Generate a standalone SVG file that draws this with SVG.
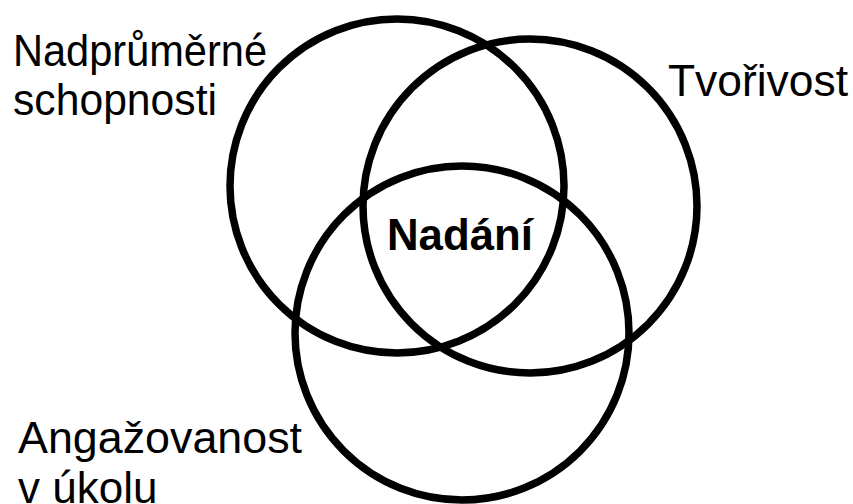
<svg xmlns="http://www.w3.org/2000/svg" width="853" height="504" viewBox="0 0 853 504">
<style>
.c{fill:none;stroke:#000;stroke-width:7.5}
.t{font-family:"Liberation Sans",Arial,sans-serif;font-size:44px;fill:#000}
.b{font-weight:bold}
</style>
<rect width="853" height="504" fill="#fff"/>
<g id="circle-abilities"><circle class="c" cx="397" cy="186" r="167"/></g>
<g id="circle-creativity"><circle class="c" cx="530" cy="206" r="167"/></g>
<g id="circle-commitment"><circle class="c" cx="462" cy="333" r="167"/></g>
<g id="label-abilities"><text class="t" x="13" y="66" textLength="254" lengthAdjust="spacingAndGlyphs">Nadprůměrné</text><text class="t" x="13" y="115" textLength="204" lengthAdjust="spacingAndGlyphs">schopnosti</text></g>
<g id="label-creativity"><text class="t" x="668" y="96" textLength="180" lengthAdjust="spacingAndGlyphs">Tvořivost</text></g>
<g id="label-commitment"><text class="t" x="18" y="453" textLength="284" lengthAdjust="spacingAndGlyphs">Angažovanost</text><text class="t" x="18" y="503">v úkolu</text></g>
<g id="label-giftedness"><text class="t b" x="387" y="250" textLength="146" lengthAdjust="spacingAndGlyphs">Nadání</text></g>
</svg>
